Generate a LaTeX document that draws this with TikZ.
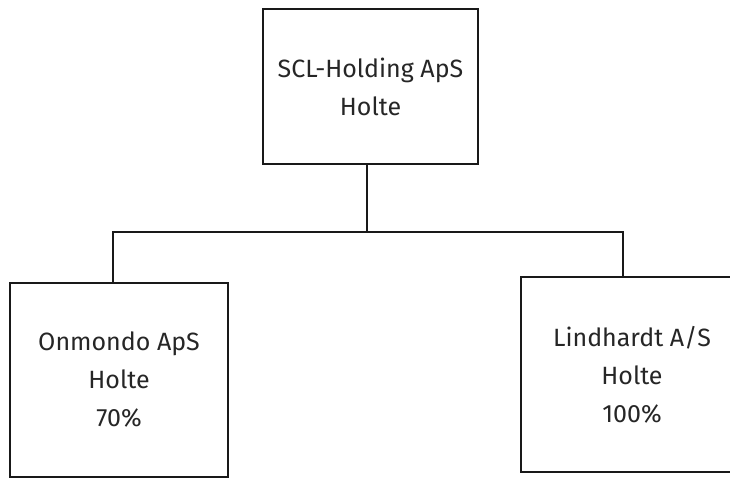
\documentclass[tikz,border=0pt]{standalone}
\usepackage{fontspec}
\setmainfont{Fira Sans}
\begin{document}
\begin{tikzpicture}[x=1pt,y=-1pt,
  box/.style={draw=black!90, line width=1.6pt, fill=white, align=center, inner sep=0pt,
    font=\fontsize{25}{38}\selectfont, text=black!85},
  conn/.style={draw=black!90, line width=1.6pt}]
\useasboundingbox[fill=white] (0,0) rectangle (730,478);
\clip (0,0) rectangle (730,478);
\node[box, minimum width=215pt, minimum height=155pt] (top) at (370.5,86.5) {SCL-Holding ApS\\Holte};
\node[box, minimum width=218pt, minimum height=194pt] (left) at (119,380) {Onmondo ApS\\Holte\\70\%};
\node[box, minimum width=222pt, minimum height=195pt] (right) at (632,374.5) {Lindhardt A/S\\Holte\\100\%};
\coordinate (j) at (367,232);
\coordinate (jl) at (113,232);
\coordinate (jr) at (623,232);
\draw[conn] (j |- top.south) -- (j);
\draw[conn] (jl |- left.north) -- (jl) -- (jr) -- (jr |- right.north);
\end{tikzpicture}
\end{document}
